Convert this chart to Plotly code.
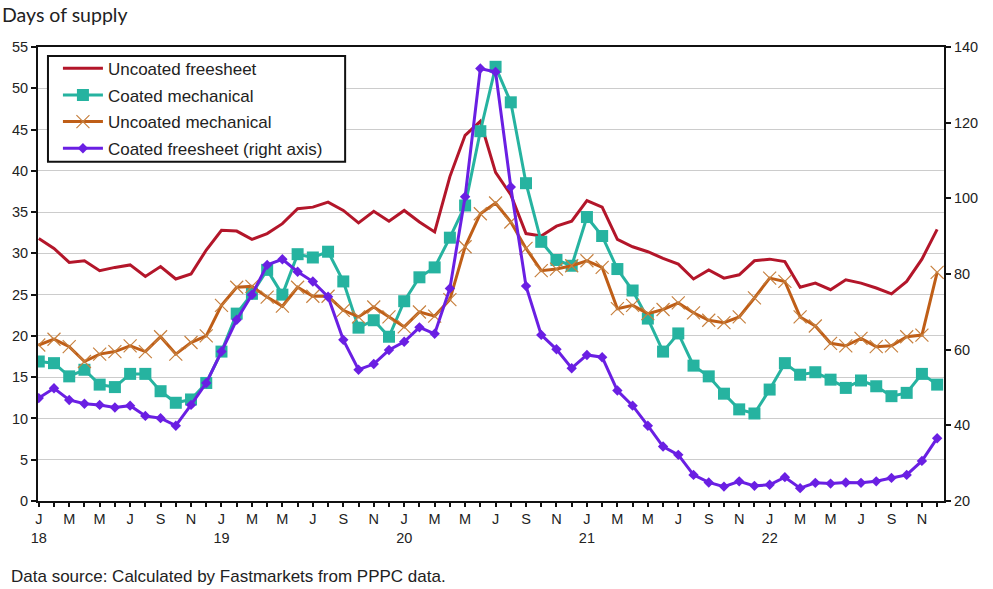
import plotly.graph_objects as go

month_letters = ["J", "F", "M", "A", "M", "J", "J", "A", "S", "O", "N", "D"]
years = ["18", "19", "20", "21", "22"]

uncoated_freesheet = [
    31.8, 30.6, 28.9, 29.1, 27.9, 28.3, 28.6, 27.2, 28.4, 26.9, 27.5, 30.4,
    32.8, 32.7, 31.7, 32.4, 33.6, 35.4, 35.6, 36.2, 35.2, 33.7, 35.1, 33.9,
    35.2, 33.8, 32.6, 39.3, 44.3, 46.0, 39.8, 37.1, 32.4, 32.1, 33.3, 33.9,
    36.4, 35.6, 31.7, 30.8, 30.2, 29.4, 28.7, 26.9, 28.0, 27.0, 27.4, 29.1,
    29.3, 29.0, 25.9, 26.4, 25.6, 26.8, 26.4, 25.8, 25.1, 26.6, 29.3, 32.9,
]
coated_mechanical = [
    16.9, 16.7, 15.1, 15.9, 14.1, 13.8, 15.4, 15.4, 13.3, 11.9, 12.3, 14.3,
    18.1, 22.7, 25.1, 28.0, 25.0, 29.9, 29.5, 30.2, 26.6, 21.0, 21.9, 19.9,
    24.2, 27.1, 28.3, 31.9, 35.8, 44.8, 52.6, 48.3, 38.5, 31.4, 29.2, 28.5,
    34.4, 32.1, 28.1, 25.5, 22.1, 18.1, 20.3, 16.4, 15.1, 13.0, 11.1, 10.6,
    13.5, 16.7, 15.3, 15.6, 14.7, 13.7, 14.6, 13.9, 12.7, 13.1, 15.4, 14.1,
]
uncoated_mechanical = [
    18.9, 19.6, 18.7, 16.9, 17.8, 18.1, 18.8, 18.1, 19.9, 17.8, 19.2, 20.0,
    23.7, 25.9, 26.0, 24.7, 23.6, 25.9, 24.8, 24.8, 23.1, 22.3, 23.5, 22.3,
    21.1, 22.9, 22.4, 24.4, 30.8, 34.8, 36.1, 33.8, 30.6, 27.9, 28.1, 28.5,
    29.1, 28.3, 23.3, 23.7, 22.7, 23.2, 24.0, 22.8, 21.9, 21.6, 22.3, 24.6,
    27.0, 26.6, 22.3, 21.2, 19.1, 18.8, 19.7, 18.7, 18.8, 19.9, 20.1, 27.7,
]
coated_freesheet = [
    47.2, 49.8, 46.7, 45.7, 45.4, 44.7, 45.2, 42.5, 41.9, 39.9, 45.4, 51.2,
    59.5, 67.9, 74.5, 82.4, 83.9, 80.6, 78.0, 74.0, 62.6, 54.7, 56.2, 59.9,
    62.1, 65.9, 64.2, 76.2, 100.4, 134.3, 133.4, 103.0, 76.8, 63.9, 60.1, 55.1,
    58.6, 58.0, 49.2, 45.2, 39.9, 34.4, 32.2, 26.9, 24.9, 23.8, 25.2, 24.0,
    24.3, 26.3, 23.4, 24.8, 24.6, 24.9, 24.8, 25.2, 26.1, 26.9, 30.6, 36.6,
]

n = len(uncoated_freesheet)
x = list(range(n))
tick_text = []
for i in x:
    m = i % 12
    if m % 2 == 1:
        tick_text.append("")
    elif m == 0:
        tick_text.append(month_letters[m] + "<br>" + years[i // 12])
    else:
        tick_text.append(month_letters[m])

RED = "#B3162A"
TEAL = "#26B3A0"
ORANGE = "#BF5E17"
PURPLE = "#6A1FE3"

fig = go.Figure()
fig.add_trace(go.Scatter(
    x=x, y=uncoated_freesheet, name="Uncoated freesheet", mode="lines",
    legendgroup="a", line=dict(color=RED, width=3)))
fig.add_trace(go.Scatter(
    x=x, y=coated_mechanical, name="Coated mechanical", mode="lines+markers",
    legendgroup="b", line=dict(color=TEAL, width=3),
    marker=dict(symbol="square", size=12, color=TEAL)))
fig.add_trace(go.Scatter(
    x=x, y=uncoated_mechanical, name="Uncoated mechanical", mode="lines+markers",
    legendgroup="c", line=dict(color=ORANGE, width=3),
    marker=dict(symbol="x-thin", size=13, line=dict(color="#C7803F", width=1.2))))
fig.add_trace(go.Scatter(
    x=x, y=coated_freesheet, name="Coated freesheet (right axis)", mode="lines+markers",
    legendgroup="d", line=dict(color=PURPLE, width=3), yaxis="y2",
    marker=dict(symbol="diamond", size=8, color=PURPLE)))

tickfont = dict(family="Liberation Sans, Arial, sans-serif", size=14.5, color="#222222")

fig.update_layout(
    width=993, height=589,
    margin=dict(l=38, r=49, t=47, b=88, autoexpand=False),
    paper_bgcolor="white", plot_bgcolor="white",
    showlegend=True,
    legend=dict(x=0.022, y=0.992, xanchor="left", yanchor="top",
                bgcolor="rgba(0,0,0,0)", borderwidth=0,
                font=dict(family="Liberation Sans, Arial, sans-serif", size=17, color="#222222"),
                tracegroupgap=1.6, itemwidth=40),
    xaxis=dict(range=[-0.05, 59.45], tickmode="array", tickvals=x, ticktext=tick_text,
               ticks="outside", ticklen=4, tickwidth=1.5, tickcolor="#111111",
               showline=True, linecolor="#111111", linewidth=2, mirror=True,
               showgrid=False, zeroline=False, tickfont=tickfont, tickangle=0,
               automargin=False),
    yaxis=dict(range=[0, 55], dtick=5, ticks="outside", ticklen=5, tickwidth=1.5,
               tickcolor="#111111", showline=True, linecolor="#111111", linewidth=2,
               showgrid=True, gridcolor="#CCCCCC", gridwidth=1, zeroline=False,
               tickfont=tickfont, automargin=False),
    yaxis2=dict(range=[20, 140], dtick=20, overlaying="y", side="right",
                ticks="outside", ticklen=5, tickwidth=1.5, tickcolor="#111111",
                showline=True, linecolor="#111111", linewidth=2,
                showgrid=False, zeroline=False, tickfont=tickfont, automargin=False),
    shapes=[
        dict(type="rect", xref="paper", yref="paper", x0=0.011, x1=0.339,
             y0=0.747, y1=0.980, line=dict(color="#111111", width=2),
             fillcolor="white", layer="above"),
    ],
    annotations=[
        dict(text="Days of supply", x=0, y=1, xref="paper", yref="paper",
             xshift=-38, yshift=33, xanchor="left", yanchor="middle", showarrow=False,
             font=dict(family="Lato, sans-serif", size=19.5, color="#222222")),
        dict(text="Data source: Calculated by Fastmarkets from PPPC data.",
             x=0, y=0, xref="paper", yref="paper", xshift=-29, yshift=-75,
             xanchor="left", yanchor="middle", showarrow=False,
             font=dict(family="Liberation Sans, Arial, sans-serif", size=17, color="#222222")),
    ],
)

fig.write_html("out.html", config={"displayModeBar": False},
               post_script="document.body.style.margin='0px';")
